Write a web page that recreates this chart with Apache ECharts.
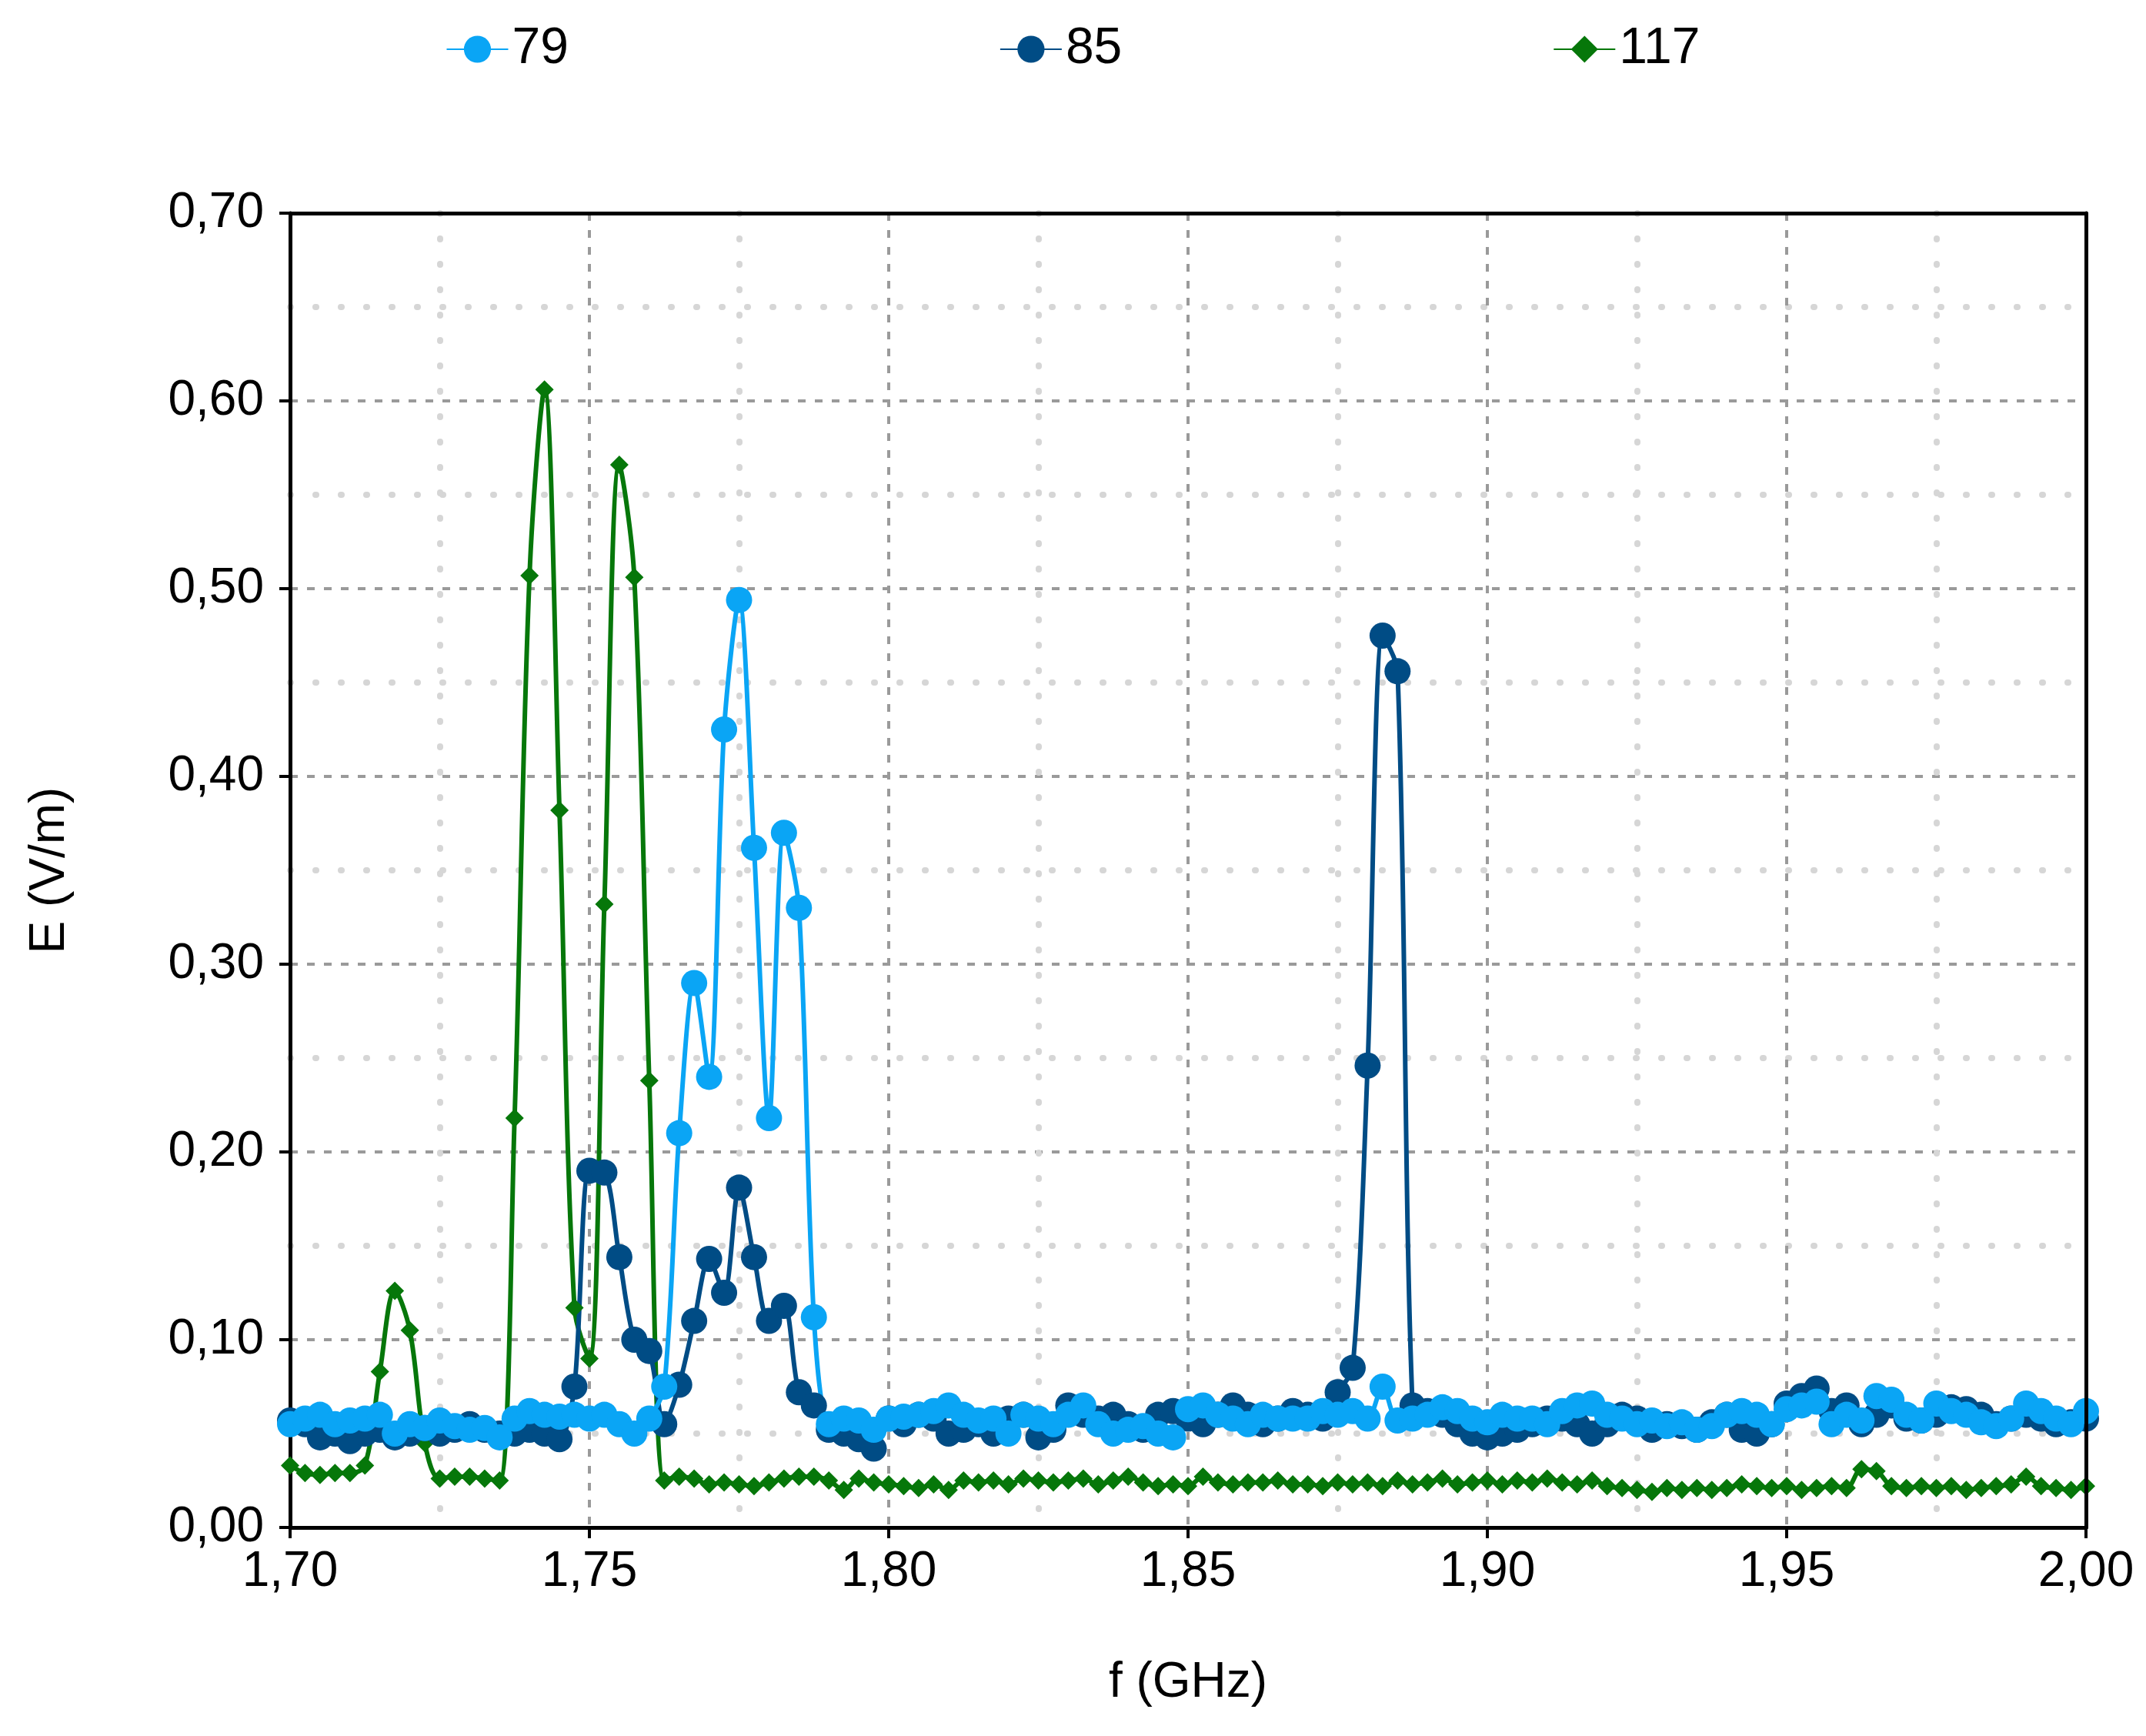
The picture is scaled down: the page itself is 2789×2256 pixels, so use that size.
<!DOCTYPE html>
<html><head><meta charset="utf-8">
<script src="https://cdn.jsdelivr.net/npm/echarts@6/dist/echarts.min.js"></script>
<style>html,body{margin:0;padding:0;background:#fff}#c{width:2789px;height:2256px}</style>
</head><body><div id="c"></div>
<script>
var seriesNames = ['79', '85', '117'];
var freqStart = 1.70, freqStep = 0.0025;
var e79 = [
 .055,.058,.060,.055,.057,.058,.060,.050,.055,.053,
 .057,.054,.052,.053,.048,.058,.062,.060,.059,.060,
 .058,.060,.055,.050,.058,.075,.210,.290,.240,.425,
 .494,.362,.218,.370,.330,.112,.055,.058,.057,.052,
 .058,.059,.060,.062,.065,.060,.057,.058,.050,.060,
 .058,.055,.060,.065,.055,.050,.052,.054,.050,.048,
 .063,.065,.060,.058,.055,.060,.058,.058,.058,.062,
 .060,.062,.058,.075,.057,.058,.060,.064,.062,.058,
 .056,.060,.058,.058,.055,.062,.065,.066,.060,.058,
 .055,.057,.054,.056,.052,.054,.060,.062,.060,.055,
 .063,.065,.067,.055,.060,.057,.070,.068,.060,.057,
 .066,.062,.060,.056,.054,.058,.066,.062,.058,.055,.062];
var e85 = [
 .057,.055,.048,.050,.046,.050,.052,.048,.050,.053,
 .050,.052,.055,.052,.050,.050,.052,.050,.047,.075,
 .190,.189,.144,.100,.094,.055,.076,.110,.143,.125,
 .181,.144,.110,.118,.072,.065,.052,.050,.047,.042,
 .058,.055,.060,.058,.050,.052,.055,.050,.058,.060,
 .048,.052,.065,.060,.058,.060,.055,.052,.060,.062,
 .058,.055,.060,.065,.060,.055,.058,.062,.060,.058,
 .072,.085,.246,.475,.456,.065,.062,.060,.055,.050,
 .048,.050,.052,.055,.058,.058,.055,.050,.055,.060,
 .058,.052,.055,.054,.052,.056,.060,.052,.050,.055,
 .066,.070,.074,.062,.065,.055,.060,.065,.058,.057,
 .060,.064,.063,.060,.055,.058,.060,.058,.055,.056,.058];
var e117 = [
 .033,.029,.028,.029,.029,.033,.083,.126,.105,.045,
 .026,.027,.027,.026,.025,.218,.507,.606,.382,.117,
 .090,.332,.566,.506,.238,.025,.027,.026,.023,.024,
 .023,.022,.024,.026,.027,.027,.025,.020,.026,.024,
 .023,.022,.021,.023,.020,.025,.024,.025,.023,.026,
 .025,.024,.025,.026,.023,.025,.027,.024,.022,.023,
 .022,.027,.024,.023,.024,.024,.025,.023,.023,.022,
 .024,.023,.024,.022,.025,.023,.024,.026,.023,.024,
 .025,.023,.025,.024,.026,.024,.023,.025,.022,.021,
 .020,.019,.021,.020,.021,.020,.021,.023,.022,.021,
 .022,.020,.021,.022,.021,.031,.030,.022,.021,.022,
 .021,.022,.020,.021,.022,.023,.027,.022,.021,.020,.022];
var freqs = e79.map(function(_, i){ return +(freqStart + i*freqStep).toFixed(4); });
function pairs(arr){ return arr.map(function(v,i){ return [freqs[i], v]; }); }
var colors = ['#0aa5f5', '#004c85', '#06770a'];
var font = 'Liberation Sans, Arial, sans-serif';
var chart = echarts.init(document.getElementById('c'));
function ser(name, data, color, symbol, size, smooth){
  return {name:name, type:'line', data:pairs(data), symbol:symbol, symbolSize:size,
    smooth:smooth, lineStyle:{color:color, width:6}, itemStyle:{color:color}, z: 3};
}
var gridLine = {show:true, lineStyle:{color:'#9a9a9a', width:4, type:[10,12]}};
var minorLine = {show:true, lineStyle:{color:'#d6d6d6', width:8, type:[1,32], cap:'round'}};
var fmt = function(v){ return v.toFixed(2).replace('.', ','); };
chart.setOption({
  animation:false,
  textStyle:{fontFamily:font, color:'#000'},
  legend:{top:26, left:'center', itemGap:560, itemWidth:80, itemHeight:44,
    textStyle:{fontSize:66, color:'#000', fontFamily:font},
    data:seriesNames},
  grid:{left:377, right:78, top:277, bottom:271},
  xAxis:[{type:'value', min:1.70, max:2.00, interval:0.05,
    name:'f (GHz)', nameLocation:'middle', nameGap:170,
    nameTextStyle:{fontSize:64, color:'#000'},
    axisLine:{show:true, onZero:false, lineStyle:{color:'#000', width:5}},
    axisTick:{show:true, length:14, lineStyle:{color:'#000', width:4}},
    axisLabel:{fontSize:64, color:'#000', margin:26, formatter:fmt},
    splitLine:gridLine,
    minorTick:{show:true, splitNumber:2, length:0},
    minorSplitLine:minorLine},
   {type:'value', position:'top', min:1.70, max:2.00, interval:0.05,
    axisLine:{show:true, onZero:false, lineStyle:{color:'#000', width:5}},
    axisTick:{show:false}, axisLabel:{show:false}, splitLine:{show:false}, z:10}],
  yAxis:[{type:'value', min:0, max:0.70, interval:0.10,
    name:'E (V/m)', nameLocation:'middle', nameGap:280, nameRotate:90,
    nameTextStyle:{fontSize:64, color:'#000'},
    axisLine:{show:true, onZero:false, lineStyle:{color:'#000', width:5}},
    axisTick:{show:true, length:14, lineStyle:{color:'#000', width:4}},
    axisLabel:{fontSize:64, color:'#000', margin:34, formatter:fmt},
    splitLine:gridLine,
    minorTick:{show:true, splitNumber:2, length:0},
    minorSplitLine:minorLine},
   {type:'value', position:'right', min:0, max:0.70, interval:0.10,
    axisLine:{show:true, onZero:false, lineStyle:{color:'#000', width:5}},
    axisTick:{show:false}, axisLabel:{show:false}, splitLine:{show:false}, z:10}],
  series:[
    ser(seriesNames[2], e117, colors[2], 'diamond', 24, 0.35),
    ser(seriesNames[1], e85, colors[1], 'circle', 34, 0.3),
    ser(seriesNames[0], e79, colors[0], 'circle', 34, 0.3)
  ]
});
</script></body></html>
